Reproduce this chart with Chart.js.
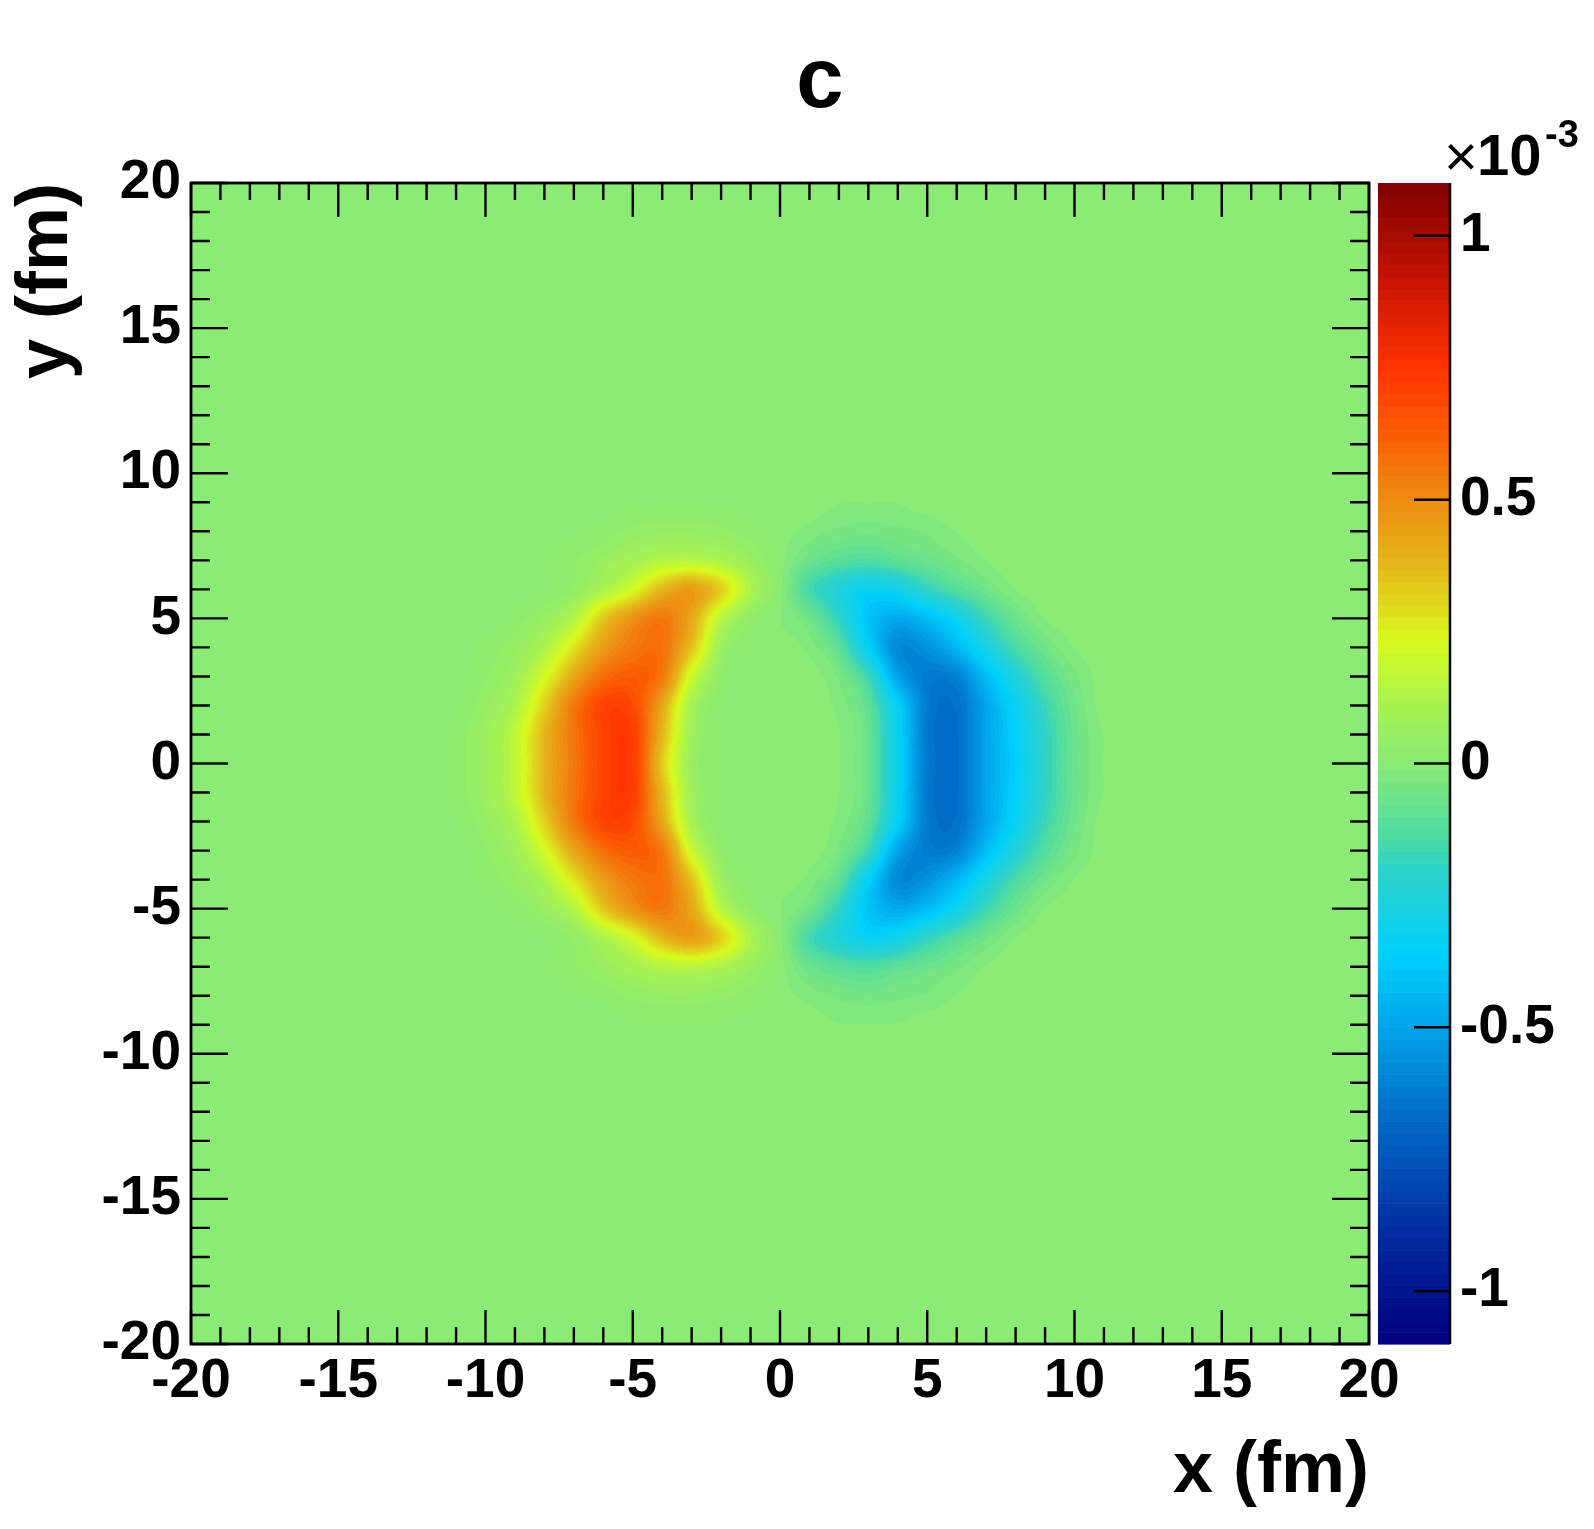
<!DOCTYPE html>
<html>
<head>
<meta charset="utf-8">
<title>c</title>
<script src="https://cdn.jsdelivr.net/npm/chart.js@4.4.1/dist/chart.umd.min.js"></script>
<style>
  html, body { margin: 0; padding: 0; background: #fff; }
  canvas { display: block; }
</style>
</head>
<body>
<canvas id="densityChart" width="1594" height="1529"></canvas>
<script>
// === Values, 1 fm cells, in units of 1e-5 ===
const xBins = [-11, -10, -9, -8, -7, -6, -5, -4, -3, -2, -1, 0, 1, 2, 3, 4, 5, 6, 7, 8, 9, 10, 11];
const yBins = [9, 8, 7, 6, 5, 4, 3, 2, 1, 0, -1, -2, -3, -4, -5, -6, -7, -8, -9];
const cellValues = [
  [0, 0, 0, 0, 0, 0, 1, 1, 1, 1, 0, 0, 0, -1, -1, -1, 0, 0, 0, 0, 0, 0, 0],
  [0, 0, 0, 0, 1, 2, 4, 5, 5, 4, 2, 0, -2, -4, -5, -4, -3, -1, 0, 0, 0, 0, 0],
  [0, 0, 0, 1, 3, 6, 10, 14, 15, 12, 6, 0, -7, -11, -13, -10, -7, -4, -1, 0, 0, 0, 0],
  [0, 0, 0, 1, 4, 12, 22, 38, 45, 32, 12, 0, -15, -25, -33, -30, -20, -12, -6, -1, 0, 0, 0],
  [0, 0, 2, 6, 14, 34, 48, 55, 42, 15, 3, -1, -6, -20, -40, -48, -42, -31, -17, -7, -1, 0, 0],
  [0, 2, 5, 12, 28, 45, 55, 57, 35, 7, 1, 0, -2, -10, -35, -58, -55, -44, -28, -14, -6, -1, 0],
  [0, 3, 8, 22, 42, 58, 63, 55, 20, 3, 0, 0, 0, -4, -17, -50, -62, -60, -42, -25, -12, -4, 0],
  [1, 5, 12, 32, 55, 70, 68, 42, 10, 1, 0, 0, 0, -2, -10, -35, -62, -65, -49, -33, -17, -6, 0],
  [2, 7, 17, 38, 56, 70, 72, 38, 8, 1, 0, 0, 0, -1, -8, -33, -63, -66, -50, -35, -20, -7, -1],
  [2, 7, 17, 38, 55, 70, 72, 33, 6, 1, 0, 0, 0, -1, -8, -32, -62, -66, -50, -36, -20, -7, -1],
  [2, 7, 17, 38, 56, 70, 72, 38, 8, 1, 0, 0, 0, -1, -8, -33, -63, -66, -50, -35, -20, -7, -1],
  [1, 5, 12, 32, 55, 70, 68, 42, 10, 1, 0, 0, 0, -2, -10, -35, -62, -65, -49, -33, -17, -6, 0],
  [0, 3, 8, 22, 42, 58, 63, 55, 20, 3, 0, 0, 0, -4, -17, -50, -62, -60, -42, -25, -12, -4, 0],
  [0, 2, 5, 12, 28, 45, 55, 57, 35, 7, 1, 0, -2, -10, -35, -58, -55, -44, -28, -14, -6, -1, 0],
  [0, 0, 2, 6, 14, 34, 48, 55, 42, 15, 3, -1, -6, -20, -40, -48, -42, -31, -17, -7, -1, 0, 0],
  [0, 0, 0, 1, 4, 12, 22, 38, 45, 32, 12, 0, -15, -25, -33, -30, -20, -12, -6, -1, 0, 0, 0],
  [0, 0, 0, 1, 3, 6, 10, 14, 15, 12, 6, 0, -7, -11, -13, -10, -7, -4, -1, 0, 0, 0, 0],
  [0, 0, 0, 0, 1, 2, 4, 5, 5, 4, 2, 0, -2, -4, -5, -4, -3, -1, 0, 0, 0, 0, 0],
  [0, 0, 0, 0, 0, 0, 1, 1, 1, 1, 0, 0, 0, -1, -1, -1, 0, 0, 0, 0, 0, 0, 0]
];
const xTicks = [-20, -15, -10, -5, 0, 5, 10, 15, 20];
const yTicks = [-20, -15, -10, -5, 0, 5, 10, 15, 20];
const zTicks = [-1, -0.5, 0, 0.5, 1];
const zMin = -1.1, zMax = 1.1;   // x 10^-3

// === Palette (ROOT-like rainbow, 99 contour levels) ===
const nLevels = 99;
const paletteStops = [
  [0.000, 0, 0, 125],
  [0.091, 0, 40, 160],
  [0.200, 0, 110, 200],
  [0.273, 0, 165, 232],
  [0.336, 0, 208, 252],
  [0.409, 45, 210, 200],
  [0.440, 80, 220, 160],
  [0.500, 138, 235, 117],
  [0.555, 170, 243, 75],
  [0.605, 218, 252, 32],
  [0.668, 228, 185, 25],
  [0.727, 238, 140, 18],
  [0.790, 252, 88, 2],
  [0.840, 255, 52, 0],
  [0.909, 205, 22, 0],
  [1.000, 128, 0, 0]
];

function paletteAt(f) {
  for (let i = 1; i < paletteStops.length; i++) {
    const a = paletteStops[i - 1], b = paletteStops[i];
    if (f <= b[0]) {
      const t = (f - a[0]) / (b[0] - a[0]);
      return [0, 1, 2].map(c => Math.round(a[c + 1] + (b[c + 1] - a[c + 1]) * t));
    }
  }
  return paletteStops[paletteStops.length - 1].slice(1);
}
const bandColors = [];
for (let k = 0; k < nLevels; k++) bandColors.push(paletteAt((k + 0.5) / nLevels));

function colorFor(v) {
  let k = Math.floor((v - zMin) / (zMax - zMin) * nLevels);
  if (k < 0) k = 0;
  if (k >= nLevels) k = nLevels - 1;
  return bandColors[k];
}

const cells = [];
yBins.forEach((yv, j) => {
  xBins.forEach((xv, i) => cells.push({ x: xv, y: yv, v: cellValues[j][i] / 100 }));
});

const fontFamily = "'Liberation Sans', Arial, Helvetica, sans-serif";
const tickFont = { family: fontFamily, size: 55, weight: 'bold' };
const axisTitleFont = { family: fontFamily, size: 72, weight: 'bold' };

// Catmull-Rom weights
function crWeights(t, out) {
  const t2 = t * t, t3 = t2 * t;
  out[0] = (-t3 + 2 * t2 - t) / 2;
  out[1] = (3 * t3 - 5 * t2 + 2) / 2;
  out[2] = (-3 * t3 + 4 * t2 + t) / 2;
  out[3] = (t3 - t2) / 2;
}

// === Heatmap drawn through the x / y scales ===
const heatmapPlugin = {
  id: 'heatmap',
  beforeDatasetsDraw(chart) {
    const { ctx, chartArea: a, scales: { x, y } } = chart;
    const nx = xBins.length, ny = yBins.length;
    const grid = new Float32Array(nx * ny);
    chart.data.datasets[0].data.forEach(p => {
      grid[yBins.indexOf(p.y) * nx + xBins.indexOf(p.x)] = p.v;
    });
    const at = (i, j) => (i < 0 || j < 0 || i >= nx || j >= ny) ? 0 : grid[j * nx + i];
    const dx = xBins[1] - xBins[0], dy = yBins[1] - yBins[0];

    const left = Math.round(a.left), top = Math.round(a.top);
    const w = Math.round(a.right) - left, h = Math.round(a.bottom) - top;
    const img = ctx.createImageData(w, h);
    const colF = new Float64Array(w);
    for (let px = 0; px < w; px++) colF[px] = (x.getValueForPixel(left + px + 0.5) - xBins[0]) / dx;
    const wx = [0, 0, 0, 0], wy = [0, 0, 0, 0];

    for (let py = 0; py < h; py++) {
      const fy = (y.getValueForPixel(top + py + 0.5) - yBins[0]) / dy;
      const jy = Math.floor(fy);
      crWeights(fy - jy, wy);
      for (let px = 0; px < w; px++) {
        const fx = colF[px];
        const ix = Math.floor(fx);
        crWeights(fx - ix, wx);
        let v = 0;
        for (let b = 0; b < 4; b++) {
          let row = 0;
          for (let c = 0; c < 4; c++) row += wx[c] * at(ix - 1 + c, jy - 1 + b);
          v += wy[b] * row;
        }
        const col = colorFor(v);
        const o = (py * w + px) * 4;
        img.data[o] = col[0];
        img.data[o + 1] = col[1];
        img.data[o + 2] = col[2];
        img.data[o + 3] = 255;
      }
    }
    ctx.putImageData(img, left, top);
  }
};

// === Frame, inward ticks, colour bar, title ===
const decorPlugin = {
  id: 'decor',
  afterDraw(chart) {
    const { ctx, chartArea: a, scales: { x, y, z } } = chart;
    ctx.save();

    // colour bar
    const barL = a.right + 9, barR = a.right + 81;
    const dz = (zMax - zMin) / nLevels;
    for (let k = 0; k < nLevels; k++) {
      const y0 = z.getPixelForValue(zMin + k * dz);
      const y1 = z.getPixelForValue(zMin + (k + 1) * dz);
      const c = bandColors[k];
      ctx.fillStyle = `rgb(${c[0]},${c[1]},${c[2]})`;
      ctx.fillRect(barL, y1, barR - barL, y0 - y1 + 0.6);
    }
    ctx.strokeStyle = '#000';
    ctx.lineWidth = 2.5;
    ctx.beginPath();
    ctx.moveTo(barR, a.top);
    ctx.lineTo(barR, a.bottom);
    zTicks.forEach(v => {
      const py = z.getPixelForValue(v);
      ctx.moveTo(barR - 36, py);
      ctx.lineTo(barR, py);
    });
    ctx.stroke();

    // frame
    ctx.lineWidth = 2.8;
    ctx.strokeRect(a.left, a.top, a.right - a.left, a.bottom - a.top);

    // ticks on all four sides, pointing inward
    ctx.lineWidth = 2.4;
    ctx.beginPath();
    for (let v = x.min; v <= x.max; v += 1) {
      const px = x.getPixelForValue(v);
      const len = xTicks.includes(v) ? 34 : 17;
      ctx.moveTo(px, a.bottom); ctx.lineTo(px, a.bottom - len);
      ctx.moveTo(px, a.top); ctx.lineTo(px, a.top + len);
    }
    for (let v = y.min; v <= y.max; v += 1) {
      const py = y.getPixelForValue(v);
      const len = yTicks.includes(v) ? 37 : 19;
      ctx.moveTo(a.left, py); ctx.lineTo(a.left + len, py);
      ctx.moveTo(a.right, py); ctx.lineTo(a.right - len, py);
    }
    ctx.stroke();

    // title
    ctx.fillStyle = '#000';
    ctx.textBaseline = 'alphabetic';
    ctx.textAlign = 'center';
    ctx.font = `bold 85px ${fontFamily}`;
    ctx.fillText('c', 820, 107);

    // exponent of the colour axis
    ctx.textAlign = 'left';
    ctx.font = `58px ${fontFamily}`;
    ctx.fillText('\u00d7', 1444, 176);
    ctx.font = `bold 58px ${fontFamily}`;
    ctx.fillText('10', 1477, 175);
    ctx.font = `bold 38px ${fontFamily}`;
    ctx.fillText('-3', 1545, 147);

    ctx.restore();
  }
};

const ctx = document.getElementById('densityChart').getContext('2d');
new Chart(ctx, {
  type: 'scatter',
  data: {
    datasets: [{ data: cells, pointRadius: 0, pointHoverRadius: 0 }]
  },
  options: {
    responsive: false,
    animation: false,
    devicePixelRatio: 1,
    events: [],
    layout: { padding: { top: 183, left: 0, right: 0, bottom: 0 } },
    plugins: {
      legend: { display: false },
      tooltip: { enabled: false },
      title: { display: false }
    },
    scales: {
      x: {
        type: 'linear', position: 'bottom', min: -20, max: 20,
        afterBuildTicks: s => { s.ticks = xTicks.map(v => ({ value: v })); },
        afterFit: s => { s.height = 185; },
        grid: { display: false, drawTicks: false },
        border: { display: false },
        ticks: { padding: 5, font: tickFont, color: '#000', autoSkip: false, maxRotation: 0, callback: v => String(v) },
        title: { display: true, text: 'x (fm)', align: 'end', color: '#000', font: axisTitleFont, padding: { top: 0, bottom: 14 } }
      },
      y: {
        type: 'linear', position: 'left', min: -20, max: 20,
        afterBuildTicks: s => { s.ticks = yTicks.map(v => ({ value: v })); },
        afterFit: s => { s.width = 191; },
        grid: { display: false, drawTicks: false },
        border: { display: false },
        ticks: { padding: 10, font: tickFont, color: '#000', autoSkip: false, callback: v => String(v) },
        title: { display: true, text: 'y (fm)', align: 'end', color: '#000', font: axisTitleFont, padding: { top: 4, bottom: 0 } }
      },
      z: {
        type: 'linear', position: 'right', min: zMin, max: zMax,
        afterBuildTicks: s => { s.ticks = zTicks.map(v => ({ value: v })); },
        afterFit: s => { s.width = 225; },
        grid: { display: false, drawTicks: false },
        border: { display: false },
        ticks: { padding: 91, font: tickFont, color: '#000', autoSkip: false, callback: v => String(v) }
      }
    }
  },
  plugins: [heatmapPlugin, decorPlugin]
});
</script>
</body>
</html>
